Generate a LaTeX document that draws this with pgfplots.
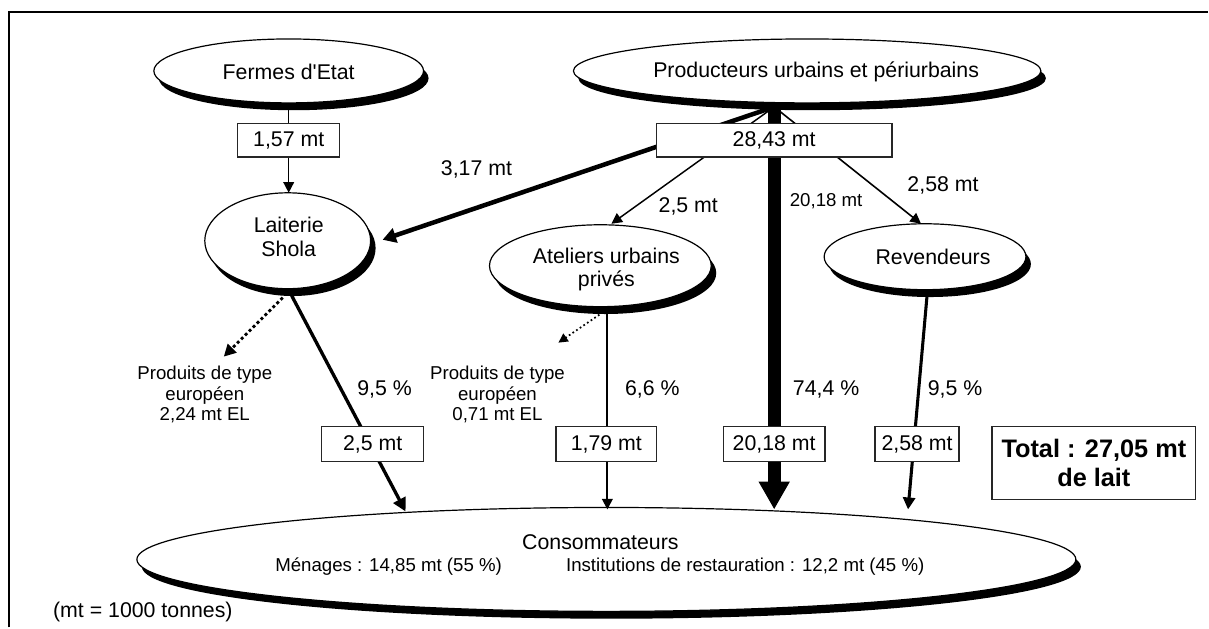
\documentclass[border=0pt]{standalone}
\usepackage{pgfplots}
\pgfplotsset{compat=1.18}
\usepackage{fontspec}
\setmainfont{Liberation Sans}[Ligatures=TeXOff]
\usetikzlibrary{arrows.meta}
\newcommand{\fA}{\fontsize{16}{19}\selectfont}
\newcommand{\fB}{\fontsize{14}{15.5}\selectfont}
\begin{document}
\begin{tikzpicture}
\begin{axis}[x=0.75pt, y=0.75pt, xmin=0, xmax=1209, ymin=0, ymax=628,
  y dir=reverse, hide axis, clip=false]
\path (axis cs:0,0) rectangle (axis cs:1209,628);
% frame
\draw[line width=1.9pt] (axis cs:9,628) -- (axis cs:9,12) -- (axis cs:1209,12);
% ellipses with shadows
\newcommand{\shell}[4]{%
  \fill[black] ([xshift=3.75pt,yshift=-5.5pt]axis cs:#1,#2) ellipse [x radius=#3pt, y radius=#4pt];
  \filldraw[fill=white, draw=black, line width=0.9pt] (axis cs:#1,#2) ellipse [x radius=#3pt, y radius=#4pt];}
\shell{289}{71}{101.25}{24}
\shell{808}{71}{175.5}{24}
\shell{288}{241}{62.25}{36}
\shell{601}{266}{83.25}{30.75}
\shell{926}{257}{75.75}{24.75}
\shell{607}{560}{352.5}{39}
% flows
\addplot[line width=1.1pt] coordinates {(289,103) (289,124)};
\addplot[line width=1.1pt, -{Triangle[length=8pt,width=8pt]}] coordinates {(289,157) (289,193)};
\addplot[line width=3.4pt, -{Triangle[length=10pt,width=11pt]}] coordinates {(775,107) (383,240)};
\addplot[line width=1.1pt, -{Triangle[length=8pt,width=8pt]}] coordinates {(775,107) (612,224)};
\addplot[line width=1.2pt, -{Triangle[length=8pt,width=8pt]}] coordinates {(775,107) (922,224)};
\addplot[line width=9.75pt, -{Triangle[length=21pt,width=22pt]}] coordinates {(775,107) (775,510)};
\addplot[line width=2.5pt, -{Triangle[length=10pt,width=10pt]}] coordinates {(292,296) (406,512)};
\addplot[line width=2.2pt, dotted, -{Triangle[length=9pt,width=9pt]}] coordinates {(283,298) (224,357)};
\addplot[line width=1.3pt, dotted, -{Triangle[length=7pt,width=7pt]}] coordinates {(600,315) (559,343)};
\addplot[line width=1.5pt, -{Triangle[length=8pt,width=8pt]}] coordinates {(608,310) (608,510)};
\addplot[line width=2.3pt, -{Triangle[length=9pt,width=9pt]}] coordinates {(928,296) (909,510)};
% ellipse labels
\node[font=\fA] at (axis cs:289,72) {Fermes d'Etat};
\node[font=\fA] at (axis cs:817,72) {Producteurs urbains et périurbains};
\node[font=\fA, align=center] at (axis cs:289,237) {Laiterie\\[-1pt]Shola};
\node[font=\fA, align=center] at (axis cs:607,270) {Ateliers urbains\\[-2pt]privés};
\node[font=\fA] at (axis cs:934,257) {Revendeurs};
\node[font=\fA] at (axis cs:601,543) {Consommateurs};
\node[font=\fB] at (axis cs:389,567) {Ménages : 14,85 mt (55 \%)};
\node[font=\fB] at (axis cs:746,567) {Institutions de restauration : 12,2 mt (45 \%)};
% boxes
\tikzset{bx/.style={draw=black!85, fill=white, line width=1pt, inner sep=0pt, font=\fA, minimum height=25pt}}
\node[bx, minimum width=76.5pt] at (axis cs:289,140.5) {1,57 mt};
\node[bx, minimum width=177pt] at (axis cs:775,140.5) {28,43 mt};
\node[bx, minimum width=76.5pt, minimum height=26pt] at (axis cs:373,444.5) {2,5 mt};
\node[bx, minimum width=75.75pt, minimum height=26pt] at (axis cs:607,444.5) {1,79 mt};
\node[bx, minimum width=76.5pt, minimum height=26pt] at (axis cs:775,444.5) {20,18 mt};
\node[bx, minimum width=63pt, minimum height=26pt] at (axis cs:918,444.5) {2,58 mt};
\node[draw=black!85, fill=white, line width=1pt, minimum width=153pt, minimum height=54.75pt, align=center,
  font=\fontsize{19}{22}\selectfont\bfseries, inner sep=0pt] at (axis cs:1095,463.5) {Total : 27,05 mt\\de lait};
% flow labels
\node[font=\fA] at (axis cs:477,170) {3,17 mt};
\node[font=\fA] at (axis cs:689,207) {2,5 mt};
\node[font=\fB] at (axis cs:827,201) {20,18 mt};
\node[font=\fA] at (axis cs:944,186) {2,58 mt};
\node[font=\fA] at (axis cs:385,390) {9,5 \%};
\node[font=\fA] at (axis cs:653,390) {6,6 \%};
\node[font=\fA] at (axis cs:827,390) {74,4 \%};
\node[font=\fA] at (axis cs:956,390) {9,5 \%};
\node[font=\fB, align=center] at (axis cs:205,395) {Produits de type\\européen\\2,24 mt EL};
\node[font=\fB, align=center] at (axis cs:498,395) {Produits de type\\européen\\0,71 mt EL};
\node[font=\fA] at (axis cs:143,613) {(mt = 1000 tonnes)};
\end{axis}
\end{tikzpicture}
\end{document}
